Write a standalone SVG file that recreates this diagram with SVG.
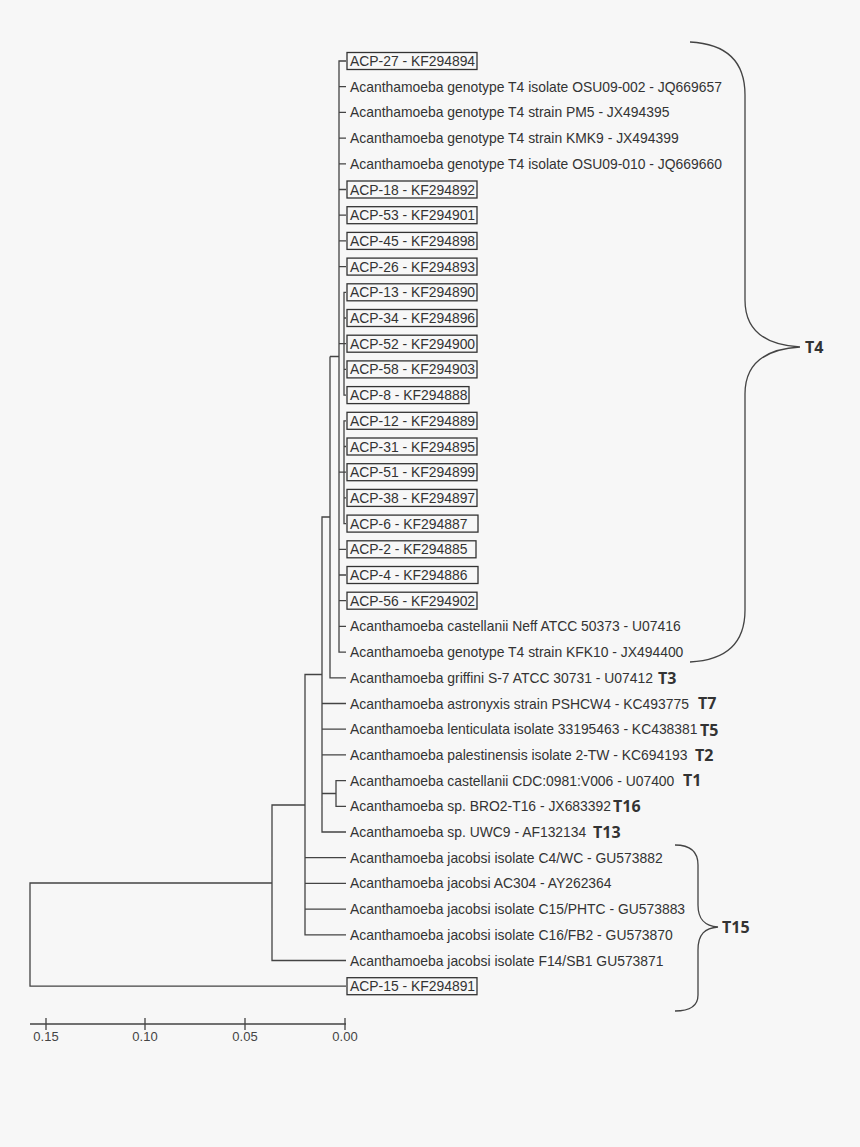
<svg xmlns="http://www.w3.org/2000/svg" width="860" height="1147" viewBox="0 0 860 1147">
<style>
.t{font-family:"Liberation Sans",Arial,sans-serif;font-size:13.9px;fill:#333}
.g{font-family:"Open Sans","Liberation Sans",sans-serif;font-size:16px;font-weight:bold;fill:#333}
.ax{font-family:"Liberation Sans",Arial,sans-serif;font-size:13px;fill:#444;text-anchor:middle}
.b{fill:none;stroke:#333;stroke-width:1.3}
line,path{stroke:#444;stroke-width:1.3;fill:none}
</style>
<rect width="860" height="1147" fill="#f7f7f7"/>
<g id="connectors">
<path d="M346,61H339V652.1H346M339,86.7H346M339,112.4H346M339,138.1H346M339,163.8H346M339,189.5H346M339,215.2H346M339,240.9H346M339,266.6H346M339,549.3H346M339,575H346M339,600.7H346M339,626.4H346"/>
<path d="M339,343.7H344M346,292.3H344V395.1H346M344,318H346M344,343.7H346M344,369.4H346"/>
<path d="M339,472.2H344M346,420.8H344V523.6H346M344,446.5H346M344,472.2H346M344,497.9H346"/>
<path d="M339,356.5H330M330,356.5V677.8H346M330,517H322V832H346M322,703.5H346M322,729.2H346M322,754.9H346M322,793.5H336M346,780.6H336V806.3H346"/>
<path d="M322,674.5H305V934.8H346M305,857.7H346M305,883.4H346M305,909.1H346M305,805H272V960.5H346M272,883H30V986.2H346"/>
</g>
<g id="leaves">
<rect class="b" x="347" y="52.5" width="130" height="17"/><text class="t" x="350" y="66">ACP-27 - KF294894</text>
<text class="t" x="350" y="91.7">Acanthamoeba genotype T4 isolate OSU09-002 - JQ669657</text>
<text class="t" x="350" y="117.4">Acanthamoeba genotype T4 strain PM5 - JX494395</text>
<text class="t" x="350" y="143.1">Acanthamoeba genotype T4 strain KMK9 - JX494399</text>
<text class="t" x="350" y="168.8">Acanthamoeba genotype T4 isolate OSU09-010 - JQ669660</text>
<rect class="b" x="347" y="181" width="130" height="17"/><text class="t" x="350" y="194.5">ACP-18 - KF294892</text>
<rect class="b" x="347" y="206.7" width="130" height="17"/><text class="t" x="350" y="220.2">ACP-53 - KF294901</text>
<rect class="b" x="347" y="232.4" width="130" height="17"/><text class="t" x="350" y="245.9">ACP-45 - KF294898</text>
<rect class="b" x="347" y="258.1" width="130" height="17"/><text class="t" x="350" y="271.6">ACP-26 - KF294893</text>
<rect class="b" x="347" y="283.8" width="130" height="17"/><text class="t" x="350" y="297.3">ACP-13 - KF294890</text>
<rect class="b" x="347" y="309.5" width="130" height="17"/><text class="t" x="350" y="323">ACP-34 - KF294896</text>
<rect class="b" x="347" y="335.2" width="130" height="17"/><text class="t" x="350" y="348.7">ACP-52 - KF294900</text>
<rect class="b" x="347" y="360.9" width="130" height="17"/><text class="t" x="350" y="374.4">ACP-58 - KF294903</text>
<rect class="b" x="347" y="386.6" width="122" height="17"/><text class="t" x="350" y="400.1">ACP-8 - KF294888</text>
<rect class="b" x="347" y="412.3" width="130" height="17"/><text class="t" x="350" y="425.8">ACP-12 - KF294889</text>
<rect class="b" x="347" y="438" width="130" height="17"/><text class="t" x="350" y="451.5">ACP-31 - KF294895</text>
<rect class="b" x="347" y="463.7" width="130" height="17"/><text class="t" x="350" y="477.2">ACP-51 - KF294899</text>
<rect class="b" x="347" y="489.4" width="130" height="17"/><text class="t" x="350" y="502.9">ACP-38 - KF294897</text>
<rect class="b" x="347" y="515.1" width="131" height="17"/><text class="t" x="350" y="528.6">ACP-6 - KF294887</text>
<rect class="b" x="347" y="540.8" width="129" height="17"/><text class="t" x="350" y="554.3">ACP-2 - KF294885</text>
<rect class="b" x="347" y="566.5" width="131" height="17"/><text class="t" x="350" y="580">ACP-4 - KF294886</text>
<rect class="b" x="347" y="592.2" width="130" height="17"/><text class="t" x="350" y="605.7">ACP-56 - KF294902</text>
<text class="t" x="350" y="631.4">Acanthamoeba castellanii Neff ATCC 50373 - U07416</text>
<text class="t" x="350" y="657.1">Acanthamoeba genotype T4 strain KFK10 - JX494400</text>
<text class="t" x="350" y="682.8">Acanthamoeba griffini S-7 ATCC 30731 - U07412</text>
<text class="t" x="350" y="708.5">Acanthamoeba astronyxis strain PSHCW4 - KC493775</text>
<text class="t" x="350" y="734.2">Acanthamoeba lenticulata isolate 33195463 - KC438381</text>
<text class="t" x="350" y="759.9">Acanthamoeba palestinensis isolate 2-TW - KC694193</text>
<text class="t" x="350" y="785.6">Acanthamoeba castellanii CDC:0981:V006 - U07400</text>
<text class="t" x="350" y="811.3">Acanthamoeba sp. BRO2-T16 - JX683392</text>
<text class="t" x="350" y="837">Acanthamoeba sp. UWC9 - AF132134</text>
<text class="t" x="350" y="862.7">Acanthamoeba jacobsi isolate C4/WC - GU573882</text>
<text class="t" x="350" y="888.4">Acanthamoeba jacobsi AC304 - AY262364</text>
<text class="t" x="350" y="914.1">Acanthamoeba jacobsi isolate C15/PHTC - GU573883</text>
<text class="t" x="350" y="939.8">Acanthamoeba jacobsi isolate C16/FB2 - GU573870</text>
<text class="t" x="350" y="965.5">Acanthamoeba jacobsi isolate F14/SB1 GU573871</text>
<rect class="b" x="347" y="977.7" width="130" height="17"/><text class="t" x="350" y="991.2">ACP-15 - KF294891</text>
</g>
<g id="groups">
<text class="g" x="658" y="684">T3</text>
<text class="g" x="698" y="709">T7</text>
<text class="g" x="700" y="736">T5</text>
<text class="g" x="695" y="761">T2</text>
<text class="g" x="683" y="786">T1</text>
<text class="g" x="613" y="812">T16</text>
<text class="g" x="593" y="838">T13</text>
<path d="M690,42C730,44 745,65 745,95V300C745,330 765,345 800,347C765,349 745,364 745,394V610C745,640 730,660 690,662"/>
<text class="g" x="805" y="353">T4</text>
<path d="M675,845C690,845 698,852 698,865V905C698,920 705,926 718,927C705,928 698,934 698,950V995C698,1006 690,1011 675,1011"/>
<text class="g" x="722" y="933">T15</text>
</g>
<g id="axis">
<path d="M30,1024H346M46,1018V1030M145,1018V1030M245,1018V1030M345,1018V1030"/>
<text class="ax" x="46" y="1041">0.15</text>
<text class="ax" x="145" y="1041">0.10</text>
<text class="ax" x="245" y="1041">0.05</text>
<text class="ax" x="345" y="1041">0.00</text>
</g>
</svg>
